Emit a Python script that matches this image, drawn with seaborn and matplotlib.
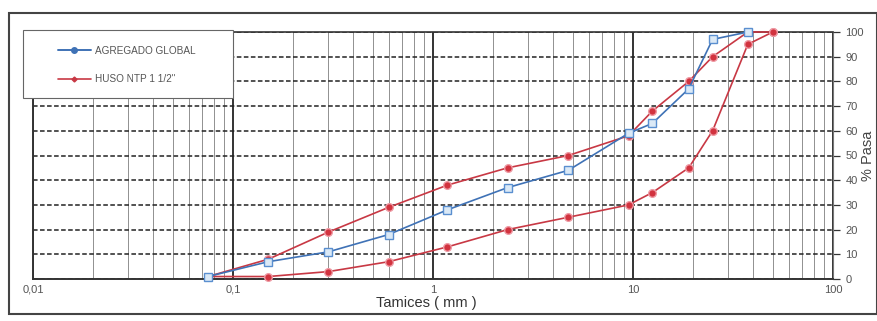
import numpy as np
import pandas as pd
import matplotlib
matplotlib.use("Agg")
import matplotlib.pyplot as plt
from matplotlib.lines import Line2D
from matplotlib.patches import Rectangle
from matplotlib.ticker import FixedLocator, LogLocator, NullFormatter
import seaborn as sns

# ---- data ----
sieves_mm = [0.075, 0.15, 0.3, 0.6, 1.18, 2.36, 4.75, 9.5, 12.5, 19, 25, 37.5, 50]
agregado_global = [1, 7, 11, 18, 28, 37, 44, 59, 63, 77, 97, 100, np.nan]
huso_inferior = [1, 1, 3, 7, 13, 20, 25, 30, 35, 45, 60, 95, 100]
huso_superior = [1, 8, 19, 29, 38, 45, 50, 58, 68, 80, 90, 100, 100]
x_ticks = [0.01, 0.1, 1, 10, 100]
x_tick_labels = ["0,01", "0,1", "1", "10", "100"]
y_ticks = [0, 10, 20, 30, 40, 50, 60, 70, 80, 90, 100]
legend_labels = ["AGREGADO GLOBAL", "HUSO NTP 1 1/2\""]

df = pd.DataFrame({"mm": sieves_mm, "global": agregado_global,
                   "inf": huso_inferior, "sup": huso_superior})

sns.set_theme(style="white")
plt.rcParams["font.family"] = ["Liberation Sans", "DejaVu Sans"]

W, H = 878, 321
fig = plt.figure(figsize=(W / 100, H / 100), dpi=100, facecolor="white")
L, R, T, B = 33, 833, 32, 279
ax = fig.add_axes([L / W, 1 - B / H, (R - L) / W, (B - T) / H])
ax.set_facecolor("white")

blue = "#3f72b6"
red = "#c83844"

red_kw = dict(color=red, lw=1.2, marker="o", markersize=5.5, markerfacecolor="#d2333f",
              markeredgecolor="#ee9aa4", markeredgewidth=1.0, zorder=4, clip_on=False)
sns.lineplot(data=df, x="mm", y="inf", ax=ax, **red_kw)
sns.lineplot(data=df, x="mm", y="sup", ax=ax, **red_kw)
sns.lineplot(data=df.dropna(), x="mm", y="global", ax=ax, color=blue, lw=1.2,
             marker="s", markersize=6, markerfacecolor="#dbe9f6",
             markeredgecolor="#5a8fd0", markeredgewidth=1.0, zorder=5, clip_on=False)

ax.set_xscale("log")
ax.set_xlim(0.01, 100)
ax.set_ylim(0, 100)

ax.xaxis.set_major_locator(FixedLocator(x_ticks))
ax.set_xticklabels(x_tick_labels)
ax.xaxis.set_minor_locator(LogLocator(base=10, subs=np.arange(2, 10)))
ax.xaxis.set_minor_formatter(NullFormatter())
ax.set_yticks(y_ticks)
ax.yaxis.tick_right()
ax.yaxis.set_label_position("right")

ax.tick_params(axis="x", which="both", length=0, pad=4, labelsize=8, labelcolor="#555555")
ax.tick_params(axis="y", which="major", right=True, left=False, length=5, width=0.9,
               color="#333333", pad=4, labelsize=8, labelcolor="#555555")

ax.set_axisbelow(True)
ax.yaxis.grid(True, which="major", linestyle=(0, (3, 1.6)), color="#222222", lw=1.1)
ax.xaxis.grid(True, which="major", linestyle="-", color="#333333", lw=1.4)
ax.xaxis.grid(True, which="minor", linestyle="-", color="#909090", lw=0.7)

for side, lw, c in [("left", 1.4, "#333333"), ("bottom", 1.4, "#333333"),
                    ("top", 1.2, "#333333"), ("right", 0.8, "#777777")]:
    ax.spines[side].set_visible(True)
    ax.spines[side].set_linewidth(lw)
    ax.spines[side].set_color(c)

ax.set_xlabel("Tamices ( mm )", fontsize=10.5, color="#333333")
ax.xaxis.set_label_coords((426 - L) / (R - L), -(296 - B) / (B - T))
ax.set_ylabel("% Pasa", fontsize=10.5, color="#444444")
ax.yaxis.set_label_coords((861 - L) / (R - L), 0.5)

# legend box (drawn inside the axes' artist list so the legend sits on top)
box = Rectangle((23 / W, 1 - 98 / H), 210 / W, 68 / H, transform=fig.transFigure,
                facecolor="white", edgecolor="#666666", lw=0.8, zorder=10, clip_on=False)
ax.add_patch(box)
handles = [Line2D([0], [0], color=blue, lw=1.4, marker="o", markersize=4,
                  markerfacecolor=blue, markeredgecolor=blue),
           Line2D([0], [0], color=red, lw=1.2, marker="D", markersize=2.5,
                  markerfacecolor=red, markeredgecolor=red)]
leg = ax.legend(handles, legend_labels, loc="center left",
                bbox_to_anchor=(58 / W, 1 - 65 / H), bbox_transform=fig.transFigure,
                frameon=False, fontsize=7.2, handlelength=3.3, handletextpad=0.4,
                labelspacing=1.9, borderpad=0, borderaxespad=0)
for t in leg.get_texts():
    t.set_color("#555555")
leg.set_zorder(11)

# outer frame of the page
fig.patches.append(Rectangle((9 / W, 1 - 314 / H), 868 / W, 301 / H,
                             transform=fig.transFigure, facecolor="none",
                             edgecolor="#444444", lw=1.5, zorder=0))

fig.savefig("out.png", dpi=100, facecolor="white")
